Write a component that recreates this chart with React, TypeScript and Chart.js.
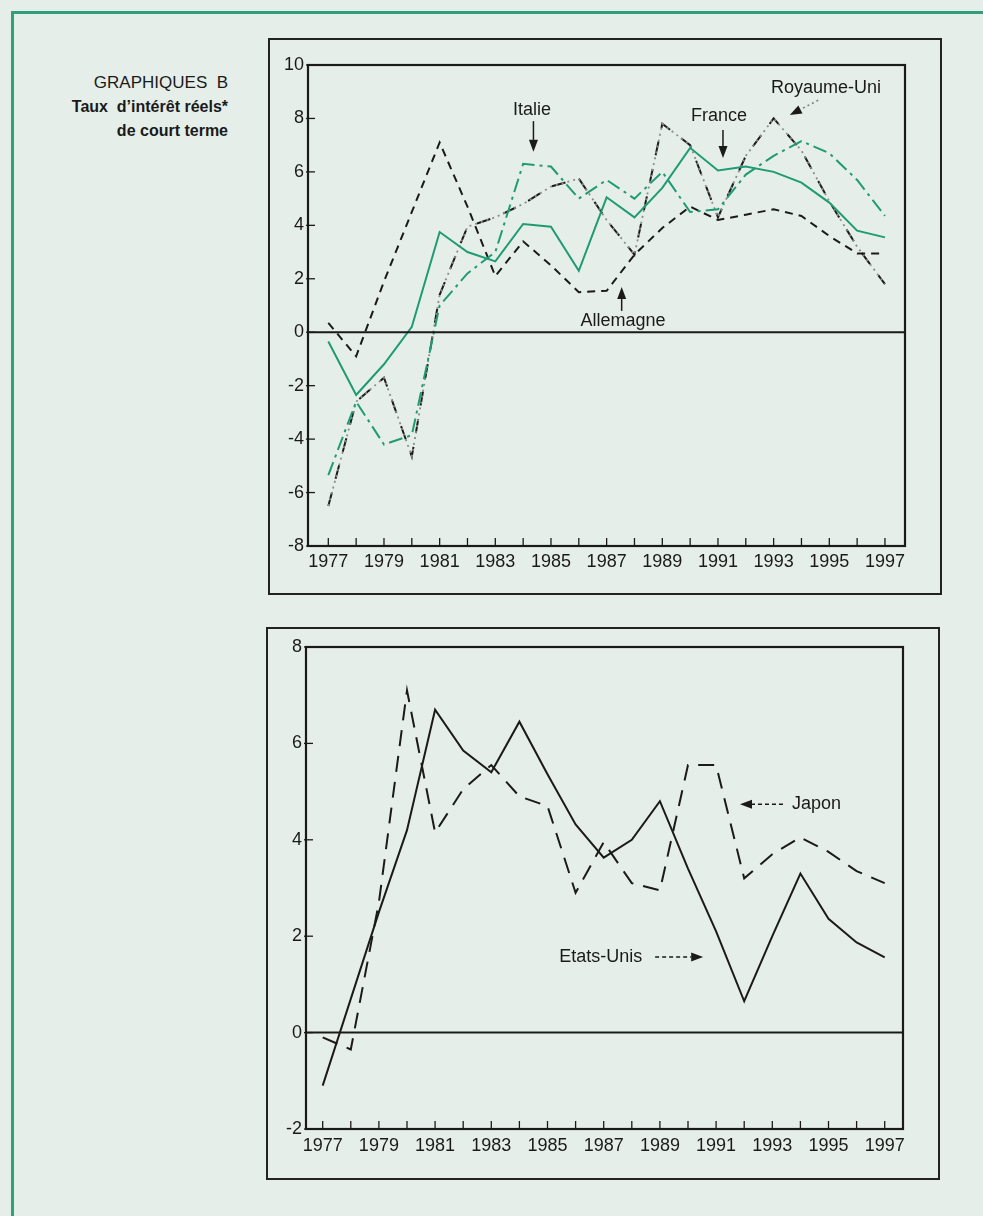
import React, { useEffect, useRef } from 'react';
import { Chart, registerables } from 'chart.js';

Chart.register(...registerables);

// ---------- data ----------
const years = [1977, 1978, 1979, 1980, 1981, 1982, 1983, 1984, 1985, 1986, 1987, 1988, 1989, 1990, 1991, 1992, 1993, 1994, 1995, 1996, 1997];
const yearLabels = [1977, 1979, 1981, 1983, 1985, 1987, 1989, 1991, 1993, 1995, 1997];

const allemagne = [0.35, -0.9, 1.9, 4.5, 7.1, 4.7, 2.1, 3.4, 2.5, 1.5, 1.55, 2.9, 3.9, 4.7, 4.2, 4.4, 4.6, 4.35, 3.6, 2.95, 2.95];
const france = [-0.35, -2.35, -1.2, 0.2, 3.75, 3.0, 2.65, 4.05, 3.95, 2.3, 5.05, 4.3, 5.4, 6.9, 6.05, 6.2, 6.0, 5.6, 4.85, 3.8, 3.55];
const italie = [-5.35, -2.6, -4.2, -3.85, 1.0, 2.2, 3.0, 6.3, 6.2, 5.0, 5.7, 5.0, 6.0, 4.5, 4.6, 5.9, 6.6, 7.15, 6.7, 5.7, 4.35];
const royaumeUni = [-6.5, -2.6, -1.7, -4.65, 1.4, 3.95, 4.3, 4.8, 5.45, 5.75, 4.2, 2.9, 7.8, 7.0, 4.3, 6.6, 8.0, 6.8, 4.9, 3.2, 1.8];

const etatsUnis = [-1.1, 0.7, 2.5, 4.2, 6.7, 5.85, 5.4, 6.45, 5.36, 4.32, 3.63, 4.0, 4.8, 3.4, 2.1, 0.65, 2.0, 3.3, 2.36, 1.87, 1.56];
const japon = [-0.1, -0.35, 2.7, 7.1, 4.15, 5.05, 5.55, 4.9, 4.7, 2.9, 3.95, 3.1, 2.95, 5.55, 5.55, 3.2, 3.7, 4.05, 3.75, 3.35, 3.1];

const topYTicks = [10, 8, 6, 4, 2, 0, -2, -4, -6, -8];
const bottomYTicks = [8, 6, 4, 2, 0, -2];

// ---------- annotations (data coordinates) ----------
const topLabels = [
  { text: 'Italie', x: 1984.32, y: 8.31, align: 'center' },
  { text: 'France', x: 1991.04, y: 8.09, align: 'center' },
  { text: 'Royaume-Uni', x: 1994.88, y: 9.14, align: 'center' },
  { text: 'Allemagne', x: 1987.59, y: 0.42, align: 'center' },
];
const topArrows = [
  { x1: 1984.37, y1: 7.9, x2: 1984.37, y2: 6.75, dash: [] as number[], color: '#1a1a1a' },
  { x1: 1991.18, y1: 7.57, x2: 1991.18, y2: 6.52, dash: [] as number[], color: '#1a1a1a' },
  { x1: 1994.6, y1: 8.68, x2: 1993.58, y2: 8.13, dash: [2, 3], color: '#7a7a7a' },
  { x1: 1987.54, y1: 0.8, x2: 1987.54, y2: 1.69, dash: [] as number[], color: '#1a1a1a' },
];
const bottomLabels = [
  { text: 'Japon', x: 1993.7, y: 4.74, align: 'left' },
  { text: 'Etats-Unis', x: 1985.42, y: 1.57, align: 'left' },
];
const bottomArrows = [
  { x1: 1993.38, y1: 4.74, x2: 1991.85, y2: 4.74, dash: [4, 3], color: '#1a1a1a' },
  { x1: 1988.83, y1: 1.57, x2: 1990.54, y2: 1.57, dash: [4, 3], color: '#1a1a1a' },
];

const INK = '#1a1a1a';
const GREEN = '#1f9b74';
const FONT = '"Liberation Sans", Arial, Helvetica, sans-serif';

function drawArrow(ctx: CanvasRenderingContext2D, x1: number, y1: number, x2: number, y2: number, dash: number[], color: string) {
  const ang = Math.atan2(y2 - y1, x2 - x1);
  const head = 12;
  const hw = 4.5;
  const bx = x2 - head * Math.cos(ang);
  const by = y2 - head * Math.sin(ang);
  ctx.save();
  ctx.setLineDash(dash);
  ctx.lineWidth = 1.5;
  ctx.strokeStyle = color;
  ctx.beginPath();
  ctx.moveTo(x1, y1);
  ctx.lineTo(bx, by);
  ctx.stroke();
  ctx.setLineDash([]);
  ctx.fillStyle = INK;
  ctx.beginPath();
  ctx.moveTo(x2, y2);
  ctx.lineTo(bx + hw * Math.sin(ang), by - hw * Math.cos(ang));
  ctx.lineTo(bx - hw * Math.sin(ang), by + hw * Math.cos(ang));
  ctx.closePath();
  ctx.fill();
  ctx.restore();
}

const decorPlugin = {
  id: 'decor',
  afterDatasetsDraw(chart: any, _args: any, o: any) {
    const { ctx, chartArea: a } = chart;
    const xs = chart.scales.x;
    const ys = chart.scales.y;
    ctx.save();
    ctx.setLineDash([]);
    ctx.strokeStyle = INK;
    // frame
    ctx.lineWidth = 2.2;
    ctx.strokeRect(a.left, a.top, a.right - a.left, a.bottom - a.top);
    // zero line
    const y0 = ys.getPixelForValue(0);
    ctx.lineWidth = 2;
    ctx.beginPath();
    ctx.moveTo(a.left, y0);
    ctx.lineTo(a.right, y0);
    ctx.stroke();
    // x tick marks (inside)
    ctx.lineWidth = 1.3;
    years.forEach((v) => {
      const px = xs.getPixelForValue(v);
      ctx.beginPath();
      ctx.moveTo(px, a.bottom);
      ctx.lineTo(px, a.bottom - 8);
      ctx.stroke();
    });
    // y tick marks
    (o.yTicks as number[]).forEach((v) => {
      const py = ys.getPixelForValue(v);
      ctx.beginPath();
      ctx.moveTo(a.left - 2, py);
      ctx.lineTo(a.left + 7, py);
      ctx.stroke();
    });
    // labels
    ctx.font = `18px ${FONT}`;
    ctx.fillStyle = INK;
    ctx.textBaseline = 'middle';
    (o.labels as any[]).forEach((l) => {
      ctx.textAlign = l.align;
      ctx.fillText(l.text, xs.getPixelForValue(l.x), ys.getPixelForValue(l.y));
    });
    (o.arrows as any[]).forEach((ar) => {
      drawArrow(ctx, xs.getPixelForValue(ar.x1), ys.getPixelForValue(ar.y1), xs.getPixelForValue(ar.x2), ys.getPixelForValue(ar.y2), ar.dash, ar.color);
    });
    ctx.restore();
  },
};

function pts(vals: number[]) {
  return years.map((yr, i) => ({ x: yr, y: vals[i] }));
}

function line(label: string, vals: number[], color: string, dash: number[], width = 2) {
  return {
    label,
    data: pts(vals),
    borderColor: color,
    backgroundColor: color,
    borderWidth: width,
    borderDash: dash,
    pointRadius: 0,
    tension: 0,
    fill: false,
    borderCapStyle: 'butt',
    borderJoinStyle: 'miter',
  };
}

function makeConfig(p: {
  datasets: any[];
  xmin: number; xmax: number; ymin: number; ymax: number;
  yTicks: number[]; yWidth: number; xHeight: number;
  pad: { top: number; right: number };
  labels: any[]; arrows: any[]; xPad: number;
}) {
  return {
    type: 'line',
    data: { datasets: p.datasets },
    plugins: [decorPlugin],
    options: {
      responsive: false,
      animation: false,
      events: [],
      layout: { padding: { top: p.pad.top, right: p.pad.right, left: 0, bottom: 0 } },
      plugins: {
        legend: { display: false },
        tooltip: { enabled: false },
        decor: { yTicks: p.yTicks, labels: p.labels, arrows: p.arrows },
      },
      scales: {
        x: {
          type: 'linear',
          min: p.xmin,
          max: p.xmax,
          afterBuildTicks: (s: any) => { s.ticks = years.map((v) => ({ value: v })); },
          afterFit: (s: any) => { s.height = p.xHeight; },
          grid: { display: false, drawTicks: false },
          border: { display: false },
          ticks: {
            padding: p.xPad,
            autoSkip: false,
            maxRotation: 0,
            minRotation: 0,
            color: INK,
            font: { family: FONT, size: 18 },
            callback: (v: number) => (yearLabels.includes(v) ? String(v) : ''),
          },
        },
        y: {
          type: 'linear',
          min: p.ymin,
          max: p.ymax,
          afterBuildTicks: (s: any) => { s.ticks = p.yTicks.map((v) => ({ value: v })); },
          afterFit: (s: any) => { s.width = p.yWidth; },
          grid: { display: false, drawTicks: false },
          border: { display: false },
          ticks: {
            padding: 4,
            color: INK,
            font: { family: FONT, size: 18 },
            callback: (v: number) => String(v),
          },
        },
      },
    },
  };
}

export default function App() {
  const topRef = useRef<HTMLCanvasElement | null>(null);
  const botRef = useRef<HTMLCanvasElement | null>(null);

  useEffect(() => {
    const top = new Chart(topRef.current as HTMLCanvasElement, makeConfig({
      datasets: [
        line('France', france, GREEN, []),
        line('Italie', italie, GREEN, [14, 5, 3, 5]),
        line('Allemagne', allemagne, INK, [8, 6]),
        line('Royaume-Uni (points)', royaumeUni, '#8c8c8c', [2, 4], 1.8),
        line('Royaume-Uni', royaumeUni, INK, [14, 14]),
      ],
      xmin: 1976.27, xmax: 1997.72, ymin: -8, ymax: 10,
      yTicks: topYTicks, yWidth: 40, xHeight: 49,
      pad: { top: 27, right: 37 },
      labels: topLabels, arrows: topArrows, xPad: 5,
    }) as any);
    const bot = new Chart(botRef.current as HTMLCanvasElement, makeConfig({
      datasets: [
        line('Etats-Unis', etatsUnis, INK, []),
        line('Japon', japon, INK, [16, 10]),
      ],
      xmin: 1976.406, xmax: 1997.651, ymin: -2, ymax: 8,
      yTicks: bottomYTicks, yWidth: 40, xHeight: 51,
      pad: { top: 20, right: 37 },
      labels: bottomLabels, arrows: bottomArrows, xPad: 6,
    }) as any);
    return () => {
      top.destroy();
      bot.destroy();
    };
  }, []);

  const titleStyle: React.CSSProperties = {
    position: 'absolute', left: 0, width: 228, textAlign: 'right',
    fontFamily: FONT, color: INK, whiteSpace: 'pre', lineHeight: '20px',
  };

  return (
    <div style={{ position: 'absolute', left: 0, top: 0, width: 983, height: 1216, background: '#e6eeea', overflow: 'hidden' }}>
      <div style={{ position: 'absolute', left: 11, top: 11, width: 972, height: 3, background: '#2f9f7c' }} />
      <div style={{ position: 'absolute', left: 11, top: 11, width: 3, height: 1205, background: '#2f9f7c' }} />

      <div style={{ ...titleStyle, top: 73, fontSize: 17 }}>GRAPHIQUES  B</div>
      <div style={{ ...titleStyle, top: 97, fontSize: 16, fontWeight: 'bold' }}>Taux  d’intérêt réels*</div>
      <div style={{ ...titleStyle, top: 121, fontSize: 16, fontWeight: 'bold' }}>de court terme</div>

      <div style={{ position: 'absolute', left: 268, top: 38, width: 674, height: 557, border: '2px solid #222', boxSizing: 'border-box' }} />
      <canvas ref={topRef} width={674} height={557} style={{ position: 'absolute', left: 268, top: 38, width: 674, height: 557 }} />

      <div style={{ position: 'absolute', left: 266, top: 627, width: 674, height: 553, border: '2px solid #222', boxSizing: 'border-box' }} />
      <canvas ref={botRef} width={674} height={553} style={{ position: 'absolute', left: 266, top: 627, width: 674, height: 553 }} />
    </div>
  );
}
